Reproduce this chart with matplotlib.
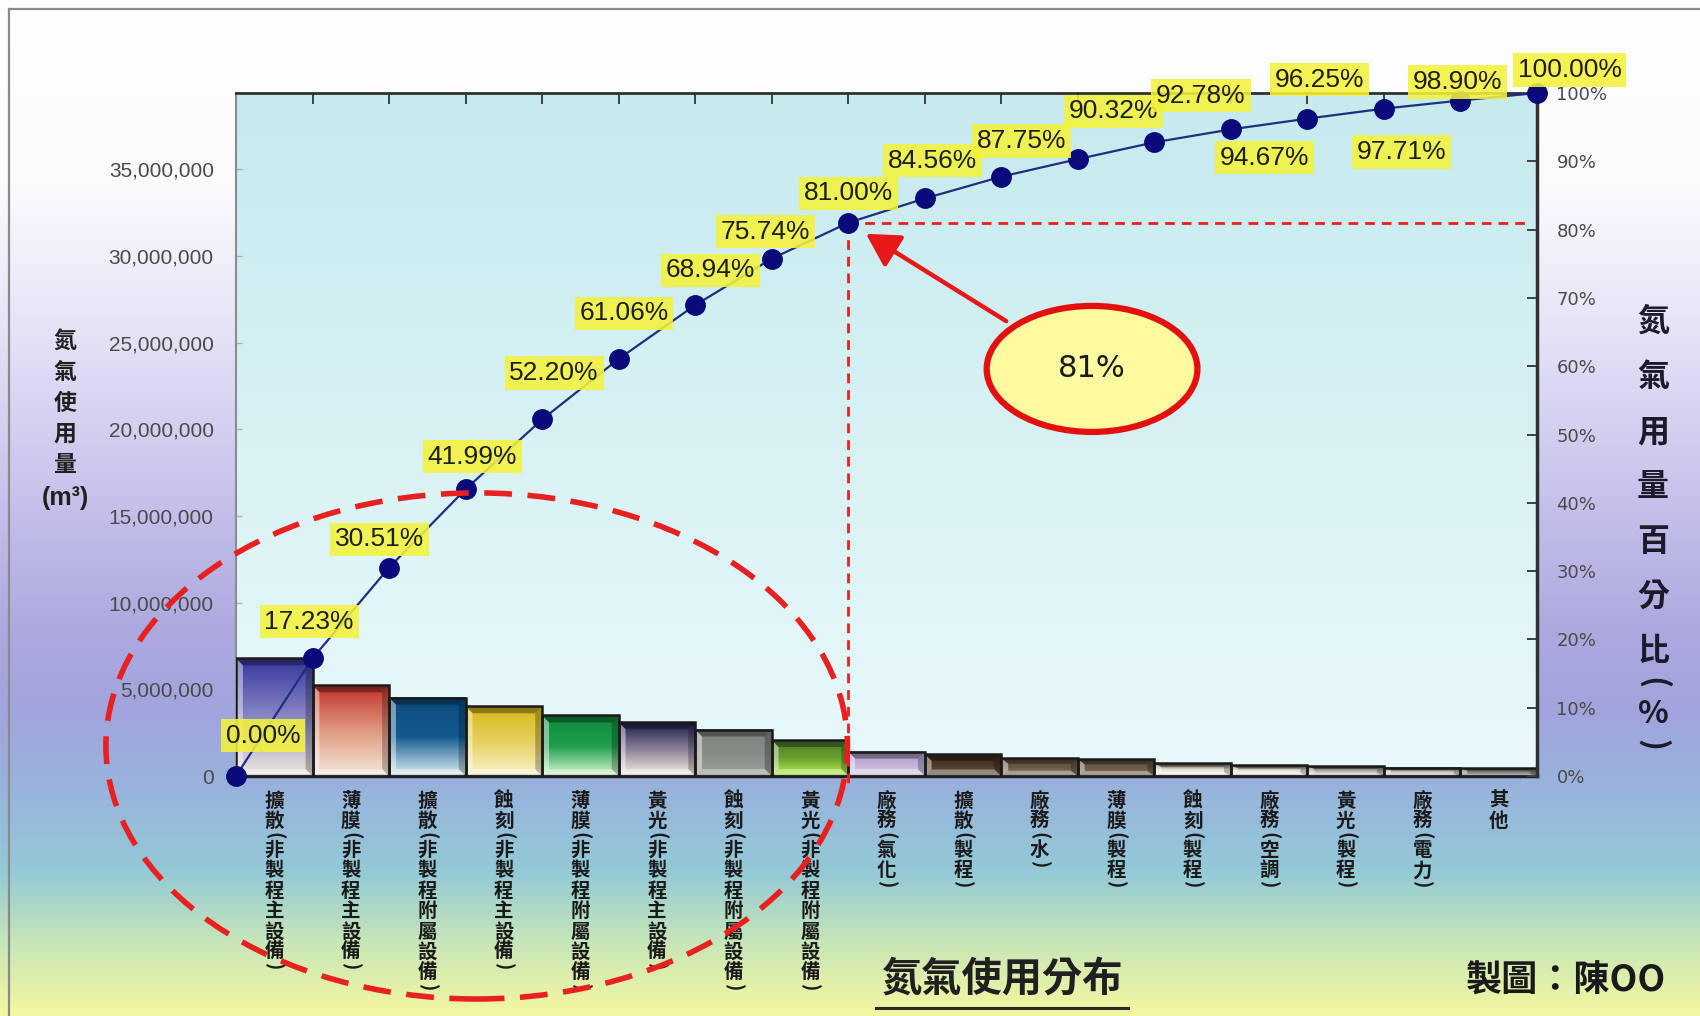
import numpy as np
import matplotlib
matplotlib.use("Agg")
import matplotlib.pyplot as plt
import matplotlib.transforms as mtransforms
from matplotlib.colors import LinearSegmentedColormap
from matplotlib.patches import Ellipse, Polygon, Rectangle
from matplotlib.lines import Line2D

plt.rcParams['font.family'] = ['Liberation Sans', 'Noto Sans CJK TC', 'DejaVu Sans']

# ---- data -------------------------------------------------------------
categories = ['擴散(非製程主設備)', '薄膜(非製程主設備)', '擴散(非製程附屬設備)',
              '蝕刻(非製程主設備)', '薄膜(非製程附屬設備)', '黃光(非製程主設備)',
              '蝕刻(非製程附屬設備)', '黃光(非製程附屬設備)', '廠務(氣化)',
              '擴散(製程)', '廠務(水)', '薄膜(製程)', '蝕刻(製程)', '廠務(空調)',
              '黃光(製程)', '廠務(電力)', '其他']
usage_m3 = [6788620, 5232320, 4523120, 4022740, 3490840, 3104720, 2679200,
            2072440, 1402640, 1256860, 1012580, 969240, 744660, 622520,
            575240, 468860, 433400]
usage_ticks = [0, 5000000, 10000000, 15000000, 20000000, 25000000, 30000000, 35000000]
percent_ticks = [0, 10, 20, 30, 40, 50, 60, 70, 80, 90, 100]
highlight_pct = 81
chart_title = '氮氣使用分布'
credit_text = '製圖：陳OO'
left_label_chars = '氮氣使用量'
left_label_unit = '(m³)'
right_label_chars = '氮氣用量百分比(%)'

total = sum(usage_m3)
cum_pct = np.concatenate([[0.0], np.cumsum(usage_m3)]) / total * 100
hi_idx = int(np.argmin(np.abs(cum_pct - highlight_pct)))

# ---- styling ----------------------------------------------------------
bar_stops = [
    ['#36369e', '#8a88c4', '#f2ebe0'],
    ['#c0302a', '#e09a80', '#f6e8dc'],
    ['#0c4a7e', '#135a90', '#e0f0f4'],
    ['#d8b818', '#e6cf5c', '#faf4d0'],
    ['#0e8a3c', '#1e9e4e', '#d8f8d0'],
    ['#1c1c48', '#8a8098', '#fbf4e4'],
    ['#7e847e', '#868c86', '#9aa09a'],
    ['#4a7a28', '#6aa030', '#b8f050'],
    ['#a898c4', '#c0b0d8', '#d8d0e8'],
    ['#3a2818', '#4a3828', '#6a5444'],
    ['#5a4838', '#6a5848', '#8a7868'],
    ['#5a4838', '#6a5848', '#8a7868'],
    ['#4a3c30', '#e8e4dc', '#fbf8f0'],
    ['#4a3c30', '#e8e4dc', '#fbf8f0'],
    ['#484038', '#b8b4b0', '#e8e8e8'],
    ['#504840', '#c0bcb8', '#eeeeee'],
    ['#4a4440', '#808080', '#a0a0a0'],
]
label_offsets = [(19.5, 29), (-2.4, 26.5), (-7, 20.3), (4.7, 23.4), (8.6, 33.6),
                 (3.9, 32.8), (10.9, 25), (-4.7, 19.5), (0, 21.1), (5.5, 27.3),
                 (14.8, 25.8), (25.8, 34.3), (33.6, 33.6), (24.2, -20.3),
                 (8.6, 28.1), (12.5, -31.2), (-2.4, 13.3), (23.4, 16.4)]


def vgrad(colors, n=256):
    cmap = LinearSegmentedColormap.from_list('g', colors)
    return cmap(np.linspace(0, 1, n))[:, None, :3]


W, H = 1700, 1016
fig = plt.figure(figsize=(W / 100, H / 100), dpi=100)

# page background
bg = fig.add_axes([0, 0, 1, 1], zorder=-10)
bg.imshow(vgrad([(0.0, '#ffffff'), (0.18, '#fbfbfe'), (0.33, '#e4e2f6'),
                 (0.48, '#c8c4ec'), (0.62, '#aca9df'), (0.70, '#a2a4dc'),
                 (0.78, '#98b4dc'), (0.86, '#94cad6'), (0.93, '#c8e6b8'),
                 (1.0, '#f4f7a0')]),
          aspect='auto', extent=(0, 1, 0, 1), interpolation='bicubic')
bg.set_xlim(0, 1)
bg.set_ylim(0, 1)
bg.axis('off')
fig.add_artist(Line2D([9 / W, 9 / W], [0, 1 - 9 / H], color='#8a8a8a', lw=1.6,
                      transform=fig.transFigure))
fig.add_artist(Line2D([9 / W, 1], [1 - 9 / H, 1 - 9 / H], color='#8a8a8a', lw=1.6,
                      transform=fig.transFigure))

# main axes
ax = fig.add_axes([236 / W, 1 - 776 / H, 1301 / W, 683 / H])
ax.set_zorder(1)
ax.patch.set_visible(False)
ax.imshow(vgrad(['#c6eaee', '#d8f2f4', '#eaf9fb']), extent=(0, 1, 0, 1),
          transform=ax.transAxes, aspect='auto', zorder=0, interpolation='bicubic')

n = len(usage_m3)
px_y = total / 683.0
for i, h in enumerate(usage_m3):
    x0, x1 = i, i + 1
    ax.imshow(vgrad(bar_stops[i]), extent=(x0, x1, 0, h), aspect='auto',
              zorder=2, interpolation='bicubic')
    bx = 0.09
    by = min(7 * px_y, 0.3 * h)
    bevels = [
        ([(x0, h), (x1, h), (x1 - bx, h - by), (x0 + bx, h - by)], 'black', 0.35),
        ([(x0, 0), (x1, 0), (x1 - bx, by), (x0 + bx, by)], 'white', 0.35),
        ([(x0, 0), (x0, h), (x0 + bx, h - by), (x0 + bx, by)], 'white', 0.45),
        ([(x1, 0), (x1, h), (x1 - bx, h - by), (x1 - bx, by)], 'black', 0.25),
    ]
    for pts, c, a in bevels:
        ax.add_patch(Polygon(pts, closed=True, fc=c, ec='none', alpha=a, zorder=3))
    ax.add_patch(Rectangle((x0, 0), 1, h, fill=False, ec='#1a1a1a', lw=1.8, zorder=4))

ax.set_xlim(0, n)
ax.set_ylim(0, total)
ax.set_xticks(range(1, n))
ax.tick_params(axis='x', bottom=False, top=True, direction='in', length=8,
               width=1.4, color='#404040', labelbottom=False)
ax.set_yticks(usage_ticks)
ax.set_yticklabels([f'{v:,.0f}' for v in usage_ticks])
ax.tick_params(axis='y', direction='in', length=4, width=1, color='#b0b0b0',
               labelsize=15, labelcolor='#4a4a4a', pad=16)
ax.spines['top'].set_color('#303030')
ax.spines['top'].set_linewidth(2)
ax.spines['bottom'].set_color('#202020')
ax.spines['bottom'].set_linewidth(2.5)
ax.spines['left'].set_color('#8c8c8c')
ax.spines['left'].set_linewidth(1.5)
ax.spines['right'].set_visible(False)

# vertical category labels
cjk = ['Noto Sans CJK TC', 'DejaVu Sans']


def stacked(chars, place, start, pitch, paren_pitch, **kw):
    pos = start
    for ch in chars:
        is_paren = ch in '()'
        step = paren_pitch if is_paren else pitch
        place(ch, pos + step / 2, -90 if is_paren else 0, kw)
        pos += step


base = mtransforms.blended_transform_factory(ax.transData, ax.transAxes)
for i, name in enumerate(categories):
    def place(ch, off, rot, kw, i=i):
        tr = base + mtransforms.ScaledTranslation(0, -off / 100, fig.dpi_scale_trans)
        ax.text(i + 0.5, 0, ch, transform=tr, rotation=rot, rotation_mode='anchor',
                ha='center', va='center', clip_on=False, **kw)
    stacked(name, place, 15, 20.5, 8, fontsize=14, fontweight='bold',
            color='#1a1a1a', family=cjk)


def fig_place(xpx):
    def place(ch, ypx, rot, kw):
        fig.text(xpx / W, 1 - ypx / H, ch, rotation=rot, rotation_mode='anchor',
                 ha='center', va='center', **kw)
    return place


stacked(left_label_chars, fig_place(65), 325.5, 31, 8, fontsize=16.5,
        fontweight='bold', color='#202020', family=cjk)
fig.text(65 / W, 1 - 498 / H, left_label_unit, ha='center', va='center',
         fontsize=18, fontweight='bold', color='#202020',
         family=['Liberation Sans', 'DejaVu Sans'])
stacked(right_label_chars, fig_place(1653), 294.5, 55, 7, fontsize=23,
        fontweight='bold', color='#1a1a2a', family=cjk)

# cumulative percentage axis
ax2 = ax.twinx()
ax2.set_zorder(2)
ax2.patch.set_visible(False)
ax2.set_ylim(0, 100)
ax2.set_yticks(percent_ticks)
ax2.set_yticklabels([f'{v}%' for v in percent_ticks], family='DejaVu Sans')
ax2.tick_params(axis='y', direction='in', length=7, width=1.4, color='#404040',
                labelsize=13, labelcolor='#4a4a4a', pad=14)
for s in ('left', 'top', 'bottom'):
    ax2.spines[s].set_visible(False)
ax2.spines['right'].set_color('#303030')
ax2.spines['right'].set_linewidth(2.5)

xs = np.arange(n + 1)
ax2.plot(xs, cum_pct, color='#1f2f80', lw=1.6, zorder=4, clip_on=False)
ax2.plot(xs, cum_pct, ls='none', marker='o', ms=14, mfc='#0a0a7a', mec='#0a0a7a',
         zorder=5, clip_on=False)

for i, (v, (dx, dy)) in enumerate(zip(cum_pct, label_offsets)):
    ax2.annotate(f'{v:.2f}%', xy=(i, v), xytext=(dx, dy), textcoords='offset points',
                 ha='center', va='center', fontsize=19, color='#1e1e1e',
                 bbox=dict(boxstyle='square,pad=0.18', fc='#f4f23c', ec='none', alpha=0.88),
                 zorder=6, annotation_clip=False)

# highlight of the cumulative threshold
hv = cum_pct[hi_idx]
ax2.plot([hi_idx, hi_idx], [hv, -1.8], color='#e82020', lw=2, ls=(0, (3.5, 2.5)),
         zorder=3, clip_on=False)
ax2.plot([hi_idx, n - 0.1], [hv, hv], color='#e82020', lw=2, ls=(0, (3.5, 2.5)),
         zorder=3)

ax2.add_patch(Ellipse((0.658, 0.596), 0.162, 0.1845, transform=ax2.transAxes,
                      fc='#fffaa0', ec='#e31010', lw=4.5, zorder=7))
ax2.text(0.658, 0.596, f'{highlight_pct}%', transform=ax2.transAxes, ha='center',
         va='center', fontsize=22, color='#1a1a1a',
         family='DejaVu Sans', zorder=8)
ax2.annotate('', xy=(hi_idx, hv), xycoords='data', xytext=(0.592, 0.666),
             textcoords='axes fraction',
             arrowprops=dict(arrowstyle='-|>,head_length=0.8,head_width=0.45',
                             mutation_scale=25, color='#e81818', lw=3.2,
                             shrinkA=0, shrinkB=15),
             zorder=7)

ax2.add_patch(Ellipse((0.185, 0.044), 0.570, 0.741, transform=ax2.transAxes,
                      fill=False, ec='#e82020', lw=4, ls=(0, (5, 2.8)),
                      zorder=9, clip_on=False))

# title and credit
fig.text(1003 / W, 1 - 979 / H, chart_title, ha='center', va='center', fontsize=29,
         fontweight='bold', color='#202020', family=cjk)
fig.add_artist(Line2D([876 / W, 1128 / W], [1 - 1008 / H, 1 - 1008 / H],
                      color='#2a2a2a', lw=2.2, transform=fig.transFigure))
fig.text(1566 / W, 1 - 981 / H, credit_text, ha='center', va='center', fontsize=26,
         fontweight='bold', color='#1a1a1a', family=cjk)

fig.savefig('out.png', dpi=100)
